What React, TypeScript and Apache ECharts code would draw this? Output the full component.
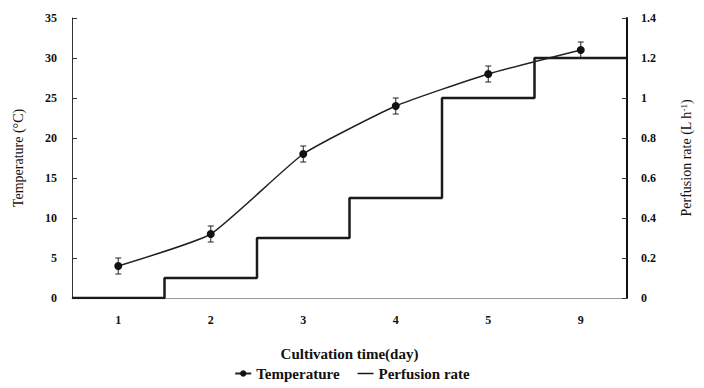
import React, { useEffect, useRef } from "react";
import * as echarts from "echarts";

const days = ["1", "2", "3", "4", "5", "9"];
const temperature = [4, 8, 18, 24, 28, 31];
const tempError = [1, 1, 1, 1, 1, 1];
const perfusion = [0, 0.1, 0.3, 0.5, 1.0, 1.2];
const leftTicks = [0, 5, 10, 15, 20, 25, 30, 35];
const rightTicks = [0, 0.2, 0.4, 0.6, 0.8, 1.0, 1.2, 1.4];

const FONT = "'Liberation Serif', 'Times New Roman', serif";

export default function App() {
  const ref = useRef<HTMLDivElement>(null);
  useEffect(() => {
    if (!ref.current) return;
    const chart = echarts.init(ref.current, undefined, { renderer: "svg" });
    const stepData: number[][] = [];
    perfusion.forEach((v, i) => {
      stepData.push([i, v]);
      stepData.push([i + 1, v]);
    });
    const errData = temperature.map((t, i) => [i, t - tempError[i], t + tempError[i]]);
    chart.setOption({
      animation: false,
      backgroundColor: "#ffffff",
      textStyle: { fontFamily: FONT },
      grid: { left: 72, right: 77, top: 18, bottom: 90, containLabel: false },
      legend: {
        bottom: 2,
        left: "center",
        itemGap: 18,
        itemWidth: 16,
        itemHeight: 8,
        textStyle: { fontFamily: FONT, fontWeight: "bold", fontSize: 15, color: "#111" },
        data: [
          { name: "Temperature" },
          { name: "Perfusion rate", icon: "path://M0,0 L16,0 L16,1.5 L0,1.5 Z" },
        ],
      },
      xAxis: [
        {
          type: "category",
          data: days,
          boundaryGap: true,
          name: "Cultivation time(day)",
          nameLocation: "middle",
          nameGap: 48,
          nameTextStyle: { fontFamily: FONT, fontWeight: "bold", fontSize: 15, color: "#111" },
          axisLine: { lineStyle: { color: "#999", width: 1 } },
          axisTick: { inside: true, length: 5, lineStyle: { color: "#333" } },
          axisLabel: { margin: 16, fontFamily: FONT, fontWeight: "bold", fontSize: 12, color: "#111" },
        },
        {
          type: "value",
          min: 0,
          max: 6,
          show: false,
        },
      ],
      yAxis: [
        {
          type: "value",
          min: 0,
          max: 35,
          interval: 5,
          name: "Temperature (°C)",
          nameLocation: "middle",
          nameRotate: 90,
          nameGap: 47,
          nameTextStyle: { fontFamily: FONT, fontSize: 14, color: "#111" },
          axisLine: { show: true, lineStyle: { color: "#333", width: 1 } },
          axisTick: { show: true, inside: true, length: 5, lineStyle: { color: "#333" } },
          splitLine: { show: false },
          axisLabel: {
            margin: 15,
            fontFamily: FONT,
            fontWeight: "bold",
            fontSize: 12,
            color: "#111",
            formatter: (v: number) => (leftTicks.includes(v) ? String(v) : ""),
          },
        },
        {
          type: "value",
          min: 0,
          max: 1.4,
          interval: 0.2,
          position: "right",
          name: "Perfusion rate (L h{sup|-1})",
          nameLocation: "middle",
          nameRotate: 90,
          nameGap: 52,
          nameTextStyle: {
            fontFamily: FONT,
            fontSize: 14,
            color: "#111",
            rich: { sup: { fontFamily: FONT, fontSize: 9, color: "#111", verticalAlign: "top", padding: [0, 0, 6, 0] } },
          },
          axisLine: { show: true, lineStyle: { color: "#111", width: 2 } },
          axisTick: { show: true, inside: true, length: 5, lineStyle: { color: "#333" } },
          splitLine: { show: false },
          axisLabel: {
            margin: 14,
            fontFamily: FONT,
            fontWeight: "bold",
            fontSize: 12,
            color: "#111",
            formatter: (v: number) => {
              const r = rightTicks.find((t) => Math.abs(t - v) < 1e-6);
              if (r === undefined) return "";
              return Number.isInteger(r) ? String(r) : r.toFixed(1);
            },
          },
        },
      ],
      series: [
        {
          name: "Perfusion rate",
          type: "line",
          xAxisIndex: 1,
          yAxisIndex: 1,
          data: stepData,
          symbol: "none",
          lineStyle: { color: "#1a1a1a", width: 2.5 },
          itemStyle: { color: "#1a1a1a" },
          z: 2,
        },
        {
          name: "Temperature",
          type: "line",
          xAxisIndex: 0,
          yAxisIndex: 0,
          data: temperature,
          smooth: 0.15,
          symbol: "circle",
          symbolSize: 8,
          lineStyle: { color: "#222", width: 1.5 },
          itemStyle: { color: "#111" },
          z: 4,
        },
        {
          name: "err",
          type: "custom",
          xAxisIndex: 0,
          yAxisIndex: 0,
          data: errData,
          z: 3,
          renderItem: (params: any, api: any) => {
            const x = api.value(0);
            const lo = api.coord([x, api.value(1)]);
            const hi = api.coord([x, api.value(2)]);
            const w = 3;
            const style = { stroke: "#222", lineWidth: 1 };
            return {
              type: "group",
              children: [
                { type: "line", shape: { x1: lo[0], y1: lo[1], x2: hi[0], y2: hi[1] }, style },
                { type: "line", shape: { x1: lo[0] - w, y1: lo[1], x2: lo[0] + w, y2: lo[1] }, style },
                { type: "line", shape: { x1: hi[0] - w, y1: hi[1], x2: hi[0] + w, y2: hi[1] }, style },
              ],
            };
          },
        },
      ],
    });
    return () => chart.dispose();
  }, []);
  return <div ref={ref} style={{ width: 704, height: 388, position: "absolute", left: 0, top: 0 }} />;
}
